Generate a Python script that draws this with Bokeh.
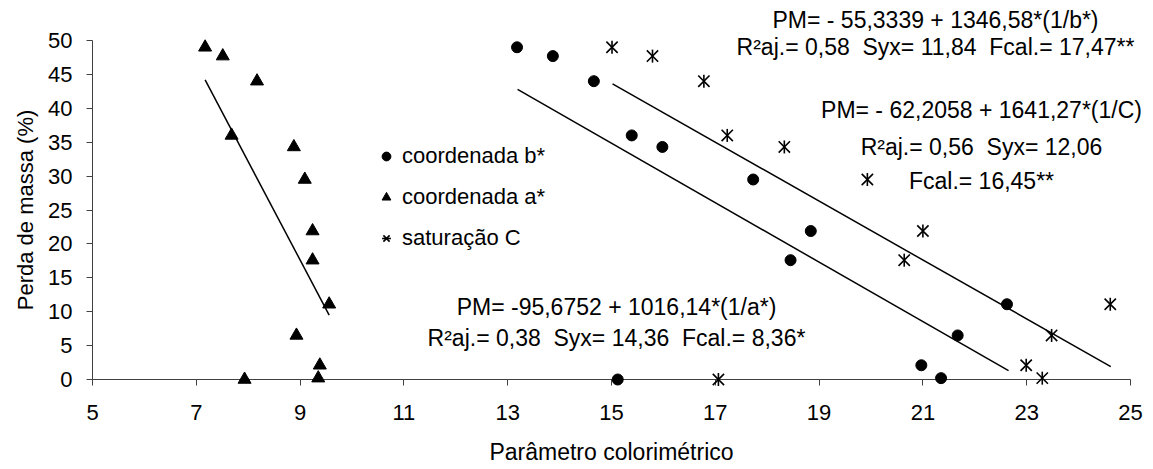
import math
from bokeh.plotting import figure
from bokeh.models import Range1d, FixedTicker, Legend, LegendItem
from bokeh.core.properties import value
from bokeh.embed import file_html
from bokeh.resources import INLINE

# ---------------- data ----------------
perda_massa = [49.0, 47.7, 44.0, 36.0, 34.3, 29.5, 21.9, 17.6, 11.1, 6.5, 2.1, 0.2, 0.0]
coord_b = [13.18, 13.87, 14.66, 15.39, 15.98, 17.73, 18.84, 18.45, 22.62, 21.67, 20.97, 21.35, 15.12]
coord_a = [7.17, 7.51, 8.17, 7.68, 8.88, 9.09, 9.24, 9.24, 9.56, 8.93, 9.38, 9.35, 7.93]
sat_c = [15.01, 15.79, 16.78, 17.23, 18.33, 19.93, 21.00, 20.64, 24.61, 23.48, 22.99, 23.30, 17.06]

fit_a_x = [7.17, 9.56]
fit_a_y = [44.2, 9.5]
fit_b_x = [13.19, 22.65]
fit_b_y = [42.8, 1.3]
fit_c_x = [15.02, 24.62]
fit_c_y = [43.6, 1.9]

x_ticks = [5, 7, 9, 11, 13, 15, 17, 19, 21, 23, 25]
y_ticks = [0, 5, 10, 15, 20, 25, 30, 35, 40, 45, 50]

legend_labels = ["coordenada b*", "coordenada a*", "saturação C"]
S2 = "\u00a0 "
eq_b = ["PM= - 55,3339 + 1346,58*(1/b*)",
        "R²aj.= 0,58" + S2 + "Syx= 11,84" + S2 + "Fcal.= 17,47**"]
eq_c = ["PM= - 62,2058 + 1641,27*(1/C)",
        "R²aj.= 0,56" + S2 + "Syx= 12,06",
        "Fcal.= 16,45**"]
eq_a = ["PM= -95,6752 + 1016,14*(1/a*)",
        "R²aj.= 0,38" + S2 + "Syx= 14,36" + S2 + "Fcal.= 8,36*"]

x_title = "Parâmetro colorimétrico"
y_title = "Perda de massa (%)"

FONT = "Liberation Sans"
FS = "22px"
FS_EQ = "23px"
AXC = "#404040"

# ---------------- figure ----------------
p = figure(width=1153, height=469,
           x_range=Range1d(5, 25), y_range=Range1d(0, 50),
           output_backend="svg", toolbar_location=None,
           min_border_left=92, min_border_right=23,
           min_border_top=40, min_border_bottom=90)
p.grid.visible = False
p.outline_line_color = None
p.background_fill_color = "white"

for ax in (p.xaxis[0], p.yaxis[0]):
    ax.axis_line_color = AXC
    ax.axis_line_width = 1
    ax.major_tick_line_color = AXC
    ax.major_tick_in = 0
    ax.major_tick_out = 6
    ax.minor_tick_line_color = None
    ax.major_label_text_font = FONT
    ax.major_label_text_font_size = FS
    ax.major_label_text_color = "black"
    ax.axis_label_text_font = FONT
    ax.axis_label_text_font_style = "normal"
    ax.axis_label_text_color = "black"

p.xaxis.ticker = FixedTicker(ticks=x_ticks)
p.yaxis.ticker = FixedTicker(ticks=y_ticks)
p.xaxis.axis_label = x_title
p.yaxis.axis_label = y_title
p.xaxis.axis_label_text_font_size = FS_EQ
p.yaxis.axis_label_text_font_size = FS
p.xaxis.major_label_standoff = 19
p.xaxis.axis_label_standoff = 16
p.yaxis.major_label_standoff = 14
p.yaxis.axis_label_standoff = 7

# ---------------- regression lines ----------------
p.line(fit_a_x, fit_a_y, line_color="black", line_width=1.5)
p.line(fit_b_x, fit_b_y, line_color="black", line_width=1.5)
p.line(fit_c_x, fit_c_y, line_color="black", line_width=1.5)

# ---------------- markers ----------------
rb = p.scatter(coord_b, perda_massa, marker="circle", size=11,
               fill_color="black", line_color="black", level="overlay")
ra = p.scatter(coord_a, perda_massa, marker="triangle", size=13,
               fill_color="black", line_color="black", level="overlay")
rcx = p.scatter(sat_c, perda_massa, marker="x", size=16,
                line_color="black", line_width=1.6, level="overlay")
rcd = p.scatter(sat_c, perda_massa, marker="dash", size=13, angle=math.pi / 2,
                line_color="black", line_width=1.6, level="overlay")

legend = Legend(items=[LegendItem(label=legend_labels[0], renderers=[rb]),
                       LegendItem(label=legend_labels[1], renderers=[ra]),
                       LegendItem(label=legend_labels[2], renderers=[rcx, rcd])],
                location=(283, 128), orientation="vertical",
                glyph_width=22, glyph_height=22, label_standoff=5,
                spacing=15, padding=0, margin=0,
                border_line_color=None, background_fill_alpha=0,
                label_text_font=FONT, label_text_font_size=FS,
                label_text_color="black")
p.add_layout(legend)

# ---------------- equation texts ----------------
# page pixel -> data (frame: x 5..25 at px 92..1130, y 0..50 at px 379..40)
def dx(px):
    return 5 + (px - 92) / 51.9

def dy(py):
    return (379 - py) / 6.78

txts, tx, ty = [], [], []
for lines, cx, cys in ((eq_b, 935, [19, 46]),
                       (eq_c, 981, [109, 146, 180]),
                       (eq_a, 616, [306, 337])):
    for t, cy in zip(lines, cys):
        txts.append(t)
        tx.append(dx(cx))
        ty.append(dy(cy))

p.text(x=tx, y=ty, text=txts, text_align="center", text_baseline="middle",
       text_font=value(FONT), text_font_size=value(FS_EQ), text_color="black",
       level="overlay")

open("out.html", "w").write(file_html(p, INLINE))
